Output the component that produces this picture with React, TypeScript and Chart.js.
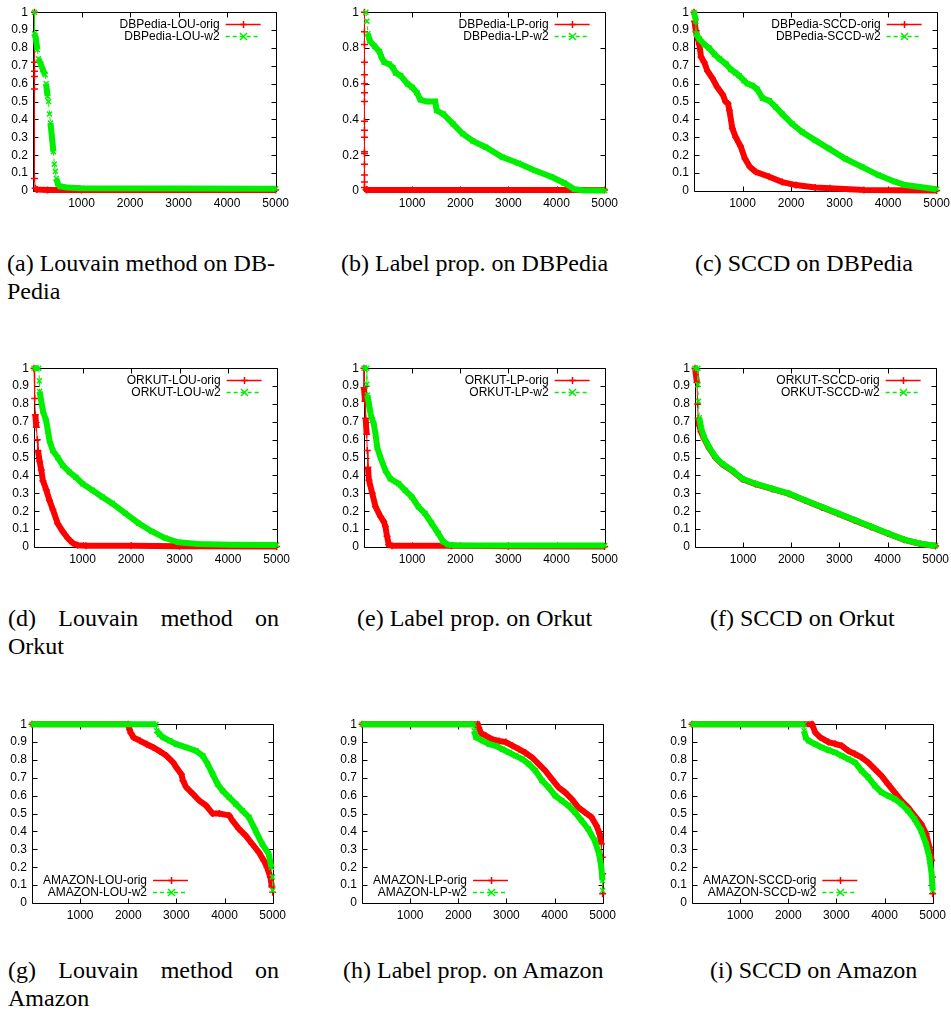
import React, { useEffect, useRef } from 'react';
import { Chart, registerables } from 'chart.js';

Chart.register(...registerables);

type Pt = [number, number];

// ---------- tick labels ----------
const X_TICKS = [1000, 2000, 3000, 4000, 5000];
const Y_LABELS_TENTHS = ['0', '0.1', '0.2', '0.3', '0.4', '0.5', '0.6', '0.7', '0.8', '0.9', '1'];
const Y_LABELS_FIFTHS = ['0', '0.2', '0.4', '0.6', '0.8', '1'];

// ---------- DBPedia ----------
const DBP_LOU_ORIG: Pt[] = [[30, 1], [30, 0.72], [30, 0.67], [30, 0.64], [30, 0.57], [30, 0.07], [45, 0.015], [80, 0.008], [300, 0.006], [1000, 0.005], [5000, 0.005]];
const DBP_LOU_W2: Pt[] = [[30, 1], [30, 0.88], [60, 0.85], [90, 0.79], [110, 0.74], [160, 0.71], [200, 0.68], [250, 0.65], [270, 0.6], [300, 0.53], [320, 0.5], [340, 0.43], [360, 0.38], [390, 0.3], [420, 0.22], [440, 0.15], [460, 0.11], [480, 0.07], [510, 0.04], [560, 0.025], [700, 0.02], [1000, 0.015], [5000, 0.012]];

const DBP_LP_ORIG: Pt[] = [[10, 1], [10, 0.89], [10, 0.82], [10, 0.72], [10, 0.65], [10, 0.6], [10, 0.55], [10, 0.5], [10, 0.39], [10, 0.34], [10, 0.3], [10, 0.22], [10, 0.21], [10, 0.15], [10, 0.09], [10, 0.05], [10, 0.02], [60, 0.005], [5000, 0.005]];
const DBP_LP_W2: Pt[] = [[40, 1], [60, 0.95], [80, 0.88], [120, 0.84], [220, 0.81], [320, 0.78], [360, 0.75], [420, 0.72], [520, 0.71], [600, 0.69], [660, 0.66], [760, 0.645], [900, 0.6], [1000, 0.58], [1100, 0.55], [1170, 0.51], [1300, 0.5], [1480, 0.5], [1510, 0.45], [1650, 0.43], [1850, 0.375], [2050, 0.32], [2260, 0.28], [2530, 0.245], [2870, 0.19], [3210, 0.155], [3550, 0.115], [3890, 0.08], [4160, 0.045], [4370, 0.01], [4570, 0.003], [5000, 0.003]];

const DBP_SCCD_ORIG: Pt[] = [[0, 1], [10, 0.95], [40, 0.89], [110, 0.82], [145, 0.75], [210, 0.72], [280, 0.67], [380, 0.63], [480, 0.58], [590, 0.54], [650, 0.5], [700, 0.49], [730, 0.45], [790, 0.35], [860, 0.3], [960, 0.25], [1050, 0.18], [1150, 0.135], [1270, 0.107], [1550, 0.08], [1820, 0.05], [2100, 0.033], [2500, 0.02], [2800, 0.015], [3500, 0.005], [5000, 0.003]];
const DBP_SCCD_W2: Pt[] = [[0, 1], [40, 0.95], [40, 0.88], [110, 0.85], [210, 0.82], [310, 0.8], [420, 0.765], [520, 0.74], [660, 0.71], [760, 0.68], [860, 0.66], [930, 0.645], [1030, 0.617], [1100, 0.6], [1200, 0.59], [1300, 0.57], [1410, 0.52], [1550, 0.505], [1680, 0.47], [1820, 0.43], [2020, 0.376], [2230, 0.33], [2500, 0.283], [2780, 0.237], [3120, 0.18], [3460, 0.135], [3800, 0.089], [4140, 0.052], [4350, 0.033], [4620, 0.024], [5000, 0.01]];

// ---------- Orkut ----------
const ORK_LOU_ORIG: Pt[] = [[0, 1], [14, 0.83], [27, 0.74], [48, 0.67], [68, 0.6], [82, 0.54], [116, 0.48], [150, 0.43], [184, 0.37], [252, 0.32], [320, 0.26], [388, 0.21], [490, 0.13], [592, 0.087], [694, 0.05], [796, 0.022], [900, 0.01], [1070, 0.007], [2000, 0.007], [3000, 0.004], [5000, 0.003]];
const ORK_LOU_W2: Pt[] = [[0, 1], [100, 1], [110, 0.93], [115, 0.87], [150, 0.815], [184, 0.76], [252, 0.705], [286, 0.65], [320, 0.594], [388, 0.539], [490, 0.5], [592, 0.456], [728, 0.419], [864, 0.39], [1000, 0.354], [1204, 0.317], [1408, 0.28], [1612, 0.244], [1884, 0.188], [2156, 0.133], [2429, 0.087], [2701, 0.05], [2973, 0.026], [3381, 0.017], [4061, 0.013], [5000, 0.011]];

const ORK_LP_ORIG: Pt[] = [[0, 1], [0, 0.89], [21, 0.815], [34, 0.72], [55, 0.63], [68, 0.54], [82, 0.446], [103, 0.373], [171, 0.3], [240, 0.225], [342, 0.17], [411, 0.142], [445, 0.114], [479, 0.06], [514, 0.013], [582, 0.007], [1815, 0.007], [3000, 0.004], [5000, 0.003]];
const ORK_LP_W2: Pt[] = [[0, 1], [60, 1], [60, 0.91], [70, 0.85], [103, 0.8], [137, 0.745], [205, 0.686], [240, 0.63], [274, 0.557], [342, 0.5], [445, 0.428], [548, 0.382], [719, 0.354], [856, 0.317], [993, 0.28], [1130, 0.225], [1267, 0.188], [1404, 0.133], [1541, 0.077], [1644, 0.03], [1747, 0.013], [1952, 0.009], [5000, 0.008]];

const ORK_SCCD_ORIG: Pt[] = [[0, 1], [40, 0.92], [55, 0.8], [65, 0.72], [90, 0.68], [124, 0.645], [192, 0.605], [295, 0.553], [433, 0.497], [570, 0.462], [776, 0.425], [982, 0.38], [1257, 0.352], [1600, 0.325], [1944, 0.298], [2287, 0.26], [2630, 0.223], [2974, 0.186], [3317, 0.149], [3661, 0.112], [4004, 0.075], [4348, 0.04], [4691, 0.017], [5000, 0.006]];
const ORK_SCCD_W2: Pt[] = [[0, 1], [60, 1], [60, 0.908], [70, 0.815], [90, 0.723], [124, 0.668], [192, 0.612], [295, 0.557], [433, 0.5], [570, 0.465], [776, 0.428], [982, 0.382], [1257, 0.354], [1600, 0.327], [1944, 0.3], [2287, 0.262], [2630, 0.225], [2974, 0.188], [3317, 0.151], [3661, 0.114], [4004, 0.077], [4348, 0.041], [4691, 0.018], [5000, 0.007]];

// ---------- Amazon ----------
const AMZ_LOU_ORIG: Pt[] = [[0, 1], [2000, 1], [2027, 0.97], [2055, 0.95], [2110, 0.926], [2247, 0.907], [2384, 0.888], [2521, 0.87], [2658, 0.848], [2795, 0.823], [2932, 0.786], [3000, 0.758], [3103, 0.72], [3137, 0.684], [3205, 0.647], [3342, 0.61], [3479, 0.572], [3616, 0.545], [3753, 0.5], [3890, 0.5], [4096, 0.49], [4164, 0.461], [4301, 0.414], [4438, 0.377], [4575, 0.33], [4712, 0.284], [4815, 0.238], [4884, 0.2], [4952, 0.145], [4985, 0.09], [5000, 0.06]];
const AMZ_LOU_W2: Pt[] = [[0, 1], [2580, 1], [2590, 0.963], [2650, 0.944], [2726, 0.926], [2863, 0.907], [3000, 0.888], [3205, 0.87], [3411, 0.851], [3548, 0.823], [3651, 0.777], [3753, 0.721], [3856, 0.665], [3959, 0.628], [4096, 0.591], [4233, 0.554], [4370, 0.517], [4507, 0.48], [4644, 0.405], [4781, 0.33], [4918, 0.275], [4975, 0.2], [4995, 0.145], [5000, 0.07]];

const AMZ_LP_ORIG: Pt[] = [[0, 1], [2404, 1], [2425, 0.98], [2473, 0.95], [2575, 0.935], [2712, 0.915], [2849, 0.906], [2986, 0.9], [3123, 0.88], [3260, 0.86], [3397, 0.84], [3534, 0.814], [3671, 0.777], [3808, 0.74], [3945, 0.693], [4082, 0.647], [4219, 0.619], [4356, 0.582], [4493, 0.535], [4630, 0.507], [4767, 0.48], [4870, 0.433], [4938, 0.387], [4973, 0.33], [4993, 0.256], [5000, 0.163], [5000, 0.052]];
const AMZ_LP_W2: Pt[] = [[0, 1], [2330, 1], [2330, 0.963], [2370, 0.926], [2507, 0.907], [2644, 0.888], [2781, 0.879], [2918, 0.86], [3055, 0.842], [3192, 0.823], [3329, 0.805], [3466, 0.777], [3603, 0.74], [3740, 0.684], [3877, 0.647], [4014, 0.6], [4151, 0.572], [4288, 0.545], [4425, 0.507], [4562, 0.461], [4699, 0.414], [4836, 0.349], [4925, 0.275], [4973, 0.2], [4995, 0.126], [5000, 0.07]];

const AMZ_SCCD_ORIG: Pt[] = [[0, 1], [2493, 1], [2562, 0.953], [2665, 0.926], [2837, 0.9], [2974, 0.89], [3111, 0.879], [3249, 0.851], [3386, 0.833], [3523, 0.814], [3661, 0.786], [3798, 0.749], [3935, 0.712], [4073, 0.665], [4210, 0.619], [4348, 0.572], [4485, 0.535], [4622, 0.489], [4760, 0.442], [4863, 0.387], [4931, 0.312], [4979, 0.238], [4995, 0.145], [5000, 0.052]];
const AMZ_SCCD_W2: Pt[] = [[0, 1], [2330, 1], [2330, 0.963], [2360, 0.926], [2424, 0.907], [2562, 0.888], [2699, 0.87], [2837, 0.855], [2974, 0.842], [3111, 0.823], [3249, 0.805], [3386, 0.786], [3523, 0.74], [3661, 0.703], [3798, 0.656], [3935, 0.619], [4073, 0.6], [4210, 0.582], [4348, 0.554], [4485, 0.517], [4622, 0.47], [4760, 0.405], [4863, 0.33], [4931, 0.256], [4979, 0.163], [5000, 0.07]];

// ---------- legend names & captions ----------
const NAMES_DBP = [['DBPedia-LOU-orig', 'DBPedia-LOU-w2'], ['DBPedia-LP-orig', 'DBPedia-LP-w2'], ['DBPedia-SCCD-orig', 'DBPedia-SCCD-w2']];
const NAMES_ORK = [['ORKUT-LOU-orig', 'ORKUT-LOU-w2'], ['ORKUT-LP-orig', 'ORKUT-LP-w2'], ['ORKUT-SCCD-orig', 'ORKUT-SCCD-w2']];
const NAMES_AMZ = [['AMAZON-LOU-orig', 'AMAZON-LOU-w2'], ['AMAZON-LP-orig', 'AMAZON-LP-w2'], ['AMAZON-SCCD-orig', 'AMAZON-SCCD-w2']];

const CAPTIONS: { lines: string[]; justify: boolean }[] = [
  { lines: ['(a) Louvain method on DB-', 'Pedia'], justify: false },
  { lines: ['(b) Label prop. on DBPedia'], justify: false },
  { lines: ['(c) SCCD on DBPedia'], justify: false },
  { lines: ['(d) Louvain method on', 'Orkut'], justify: true },
  { lines: ['(e) Label prop. on Orkut'], justify: false },
  { lines: ['(f) SCCD on Orkut'], justify: false },
  { lines: ['(g) Louvain method on', 'Amazon'], justify: true },
  { lines: ['(h) Label prop. on Amazon'], justify: false },
  { lines: ['(i) SCCD on Amazon'], justify: false },
];

// ---------- layout (positions only) ----------
const CAPTION_POS: [number, number][] = [
  [7, 249], [341, 249], [695, 249],
  [8, 604], [357, 604], [710, 604],
  [8, 956], [343, 956], [710, 956],
];

interface PanelSpec {
  frame: [number, number, number, number];
  yLabels: string[];
  yStep: number;
  names: string[];
  orig: Pt[];
  w2: Pt[];
  legendPos: 'tr' | 'bl';
}

const PANELS: PanelSpec[] = [
  { frame: [33, 11, 245, 180], yLabels: Y_LABELS_TENTHS, yStep: 0.1, names: NAMES_DBP[0], orig: DBP_LOU_ORIG, w2: DBP_LOU_W2, legendPos: 'tr' },
  { frame: [364, 11, 243, 180], yLabels: Y_LABELS_FIFTHS, yStep: 0.2, names: NAMES_DBP[1], orig: DBP_LP_ORIG, w2: DBP_LP_W2, legendPos: 'tr' },
  { frame: [694, 11, 245, 180], yLabels: Y_LABELS_TENTHS, yStep: 0.1, names: NAMES_DBP[2], orig: DBP_SCCD_ORIG, w2: DBP_SCCD_W2, legendPos: 'tr' },
  { frame: [34, 367, 245, 180], yLabels: Y_LABELS_TENTHS, yStep: 0.1, names: NAMES_ORK[0], orig: ORK_LOU_ORIG, w2: ORK_LOU_W2, legendPos: 'tr' },
  { frame: [364, 367, 243, 180], yLabels: Y_LABELS_TENTHS, yStep: 0.1, names: NAMES_ORK[1], orig: ORK_LP_ORIG, w2: ORK_LP_W2, legendPos: 'tr' },
  { frame: [695, 367, 243, 180], yLabels: Y_LABELS_TENTHS, yStep: 0.1, names: NAMES_ORK[2], orig: ORK_SCCD_ORIG, w2: ORK_SCCD_W2, legendPos: 'tr' },
  { frame: [32, 723, 243, 180], yLabels: Y_LABELS_TENTHS, yStep: 0.1, names: NAMES_AMZ[0], orig: AMZ_LOU_ORIG, w2: AMZ_LOU_W2, legendPos: 'bl' },
  { frame: [362, 723, 243, 180], yLabels: Y_LABELS_TENTHS, yStep: 0.1, names: NAMES_AMZ[1], orig: AMZ_LP_ORIG, w2: AMZ_LP_W2, legendPos: 'bl' },
  { frame: [692, 723, 243, 180], yLabels: Y_LABELS_TENTHS, yStep: 0.1, names: NAMES_AMZ[2], orig: AMZ_SCCD_ORIG, w2: AMZ_SCCD_W2, legendPos: 'bl' },
];

const RED = '#ff0000';
const GREEN = '#00ee00';
const SANS = 'Arial, "Liberation Sans", Helvetica, sans-serif';
const AXIS_W = 33;
const PAD_TOP = 11;
const PAD_RIGHT = 16;
const XAXIS_H = 22;

const gnuPlugin = {
  id: 'gnu',
  beforeDatasetsDraw(chart: any) {
    const { ctx, chartArea: a } = chart;
    const xs = chart.scales.x;
    const ys = chart.scales.y;
    const L = Math.round(a.left) + 0.5;
    const R = Math.round(a.right) + 0.5;
    const T = Math.round(a.top) + 0.5;
    const B = Math.round(a.bottom) + 0.5;
    ctx.save();
    ctx.strokeStyle = '#000';
    ctx.lineWidth = 1;
    ctx.beginPath();
    ctx.rect(L, T, R - L, B - T);
    for (const t of xs.ticks) {
      const px = Math.round(xs.getPixelForValue(t.value)) + 0.5;
      ctx.moveTo(px, B); ctx.lineTo(px, B - 5);
      ctx.moveTo(px, T); ctx.lineTo(px, T + 5);
    }
    for (const t of ys.ticks) {
      const py = Math.round(ys.getPixelForValue(t.value)) + 0.5;
      ctx.moveTo(L, py); ctx.lineTo(L + 5, py);
      ctx.moveTo(R, py); ctx.lineTo(R - 5, py);
    }
    ctx.stroke();
    ctx.restore();
  },
  afterDraw(chart: any, _args: any, opts: any) {
    const { ctx, chartArea: a } = chart;
    const items = opts.items as { label: string; color: string; dash: number[]; marker: string }[];
    if (!items) return;
    ctx.save();
    ctx.font = `12px ${SANS}`;
    ctx.textBaseline = 'middle';
    ctx.textAlign = 'right';
    const maxW = Math.max(...items.map((i) => ctx.measureText(i.label).width));
    let textRight: number;
    let y0: number;
    if (opts.pos === 'tr') {
      textRight = a.right - 56;
      y0 = a.top + 12;
    } else {
      textRight = a.left + 11 + maxW;
      y0 = a.bottom - 23;
    }
    items.forEach((it, k) => {
      const y = Math.round(y0 + k * 11.5) + 0.5;
      ctx.fillStyle = '#000';
      ctx.fillText(it.label, textRight, y);
      const x0 = textRight + 6;
      const x1 = textRight + 41;
      ctx.strokeStyle = it.color;
      ctx.lineWidth = 1.5;
      ctx.setLineDash(it.dash);
      ctx.beginPath();
      ctx.moveTo(x0, y); ctx.lineTo(x1, y);
      ctx.stroke();
      ctx.setLineDash([]);
      const cx = Math.round((x0 + x1) / 2) + 0.5;
      const r = 3.5;
      ctx.beginPath();
      if (it.marker === 'plus') {
        ctx.moveTo(cx - r, y); ctx.lineTo(cx + r, y);
        ctx.moveTo(cx, y - r); ctx.lineTo(cx, y + r);
      } else {
        ctx.moveTo(cx - r, y - r); ctx.lineTo(cx + r, y + r);
        ctx.moveTo(cx - r, y + r); ctx.lineTo(cx + r, y - r);
      }
      ctx.stroke();
    });
    ctx.restore();
  },
};

function segWidth(c: any) {
  return Math.abs(c.p1.x - c.p0.x) < 1 ? 1 : 6;
}

function Panel({ spec }: { spec: PanelSpec }) {
  const ref = useRef<HTMLCanvasElement>(null);
  const [fl, ft, fw, fh] = spec.frame;
  const cw = AXIS_W + fw + PAD_RIGHT;
  const ch = PAD_TOP + fh + XAXIS_H;

  useEffect(() => {
    if (!ref.current) return;
    const yl = spec.yLabels;
    const chart = new Chart(ref.current, {
      type: 'scatter',
      data: {
        datasets: [
          {
            label: spec.names[0],
            data: spec.orig.map(([x, y]) => ({ x, y })),
            showLine: true,
            borderColor: RED,
            backgroundColor: RED,
            borderWidth: 6,
            pointStyle: 'cross',
            pointRadius: 3.5,
            pointBorderWidth: 1.5,
            pointBorderColor: RED,
            order: 1,
            clip: 6,
            segment: { borderWidth: segWidth },
          } as any,
          {
            label: spec.names[1],
            data: spec.w2.map(([x, y]) => ({ x, y })),
            showLine: true,
            borderColor: GREEN,
            backgroundColor: GREEN,
            borderWidth: 6,
            pointStyle: 'crossRot',
            pointRadius: 3.5,
            pointBorderWidth: 1.5,
            pointBorderColor: GREEN,
            order: 0,
            clip: 6,
            segment: {
              borderWidth: segWidth,
              borderDash: (c: any) => (Math.abs(c.p1.x - c.p0.x) < 1 ? [4, 3] : []),
            },
          } as any,
        ],
      },
      options: {
        responsive: false,
        animation: false,
        devicePixelRatio: 1,
        events: [],
        layout: { padding: { top: PAD_TOP, right: PAD_RIGHT, left: 0, bottom: 0 } },
        scales: {
          x: {
            type: 'linear',
            min: 0,
            max: 5000,
            afterBuildTicks: (s: any) => {
              s.ticks = X_TICKS.map((v) => ({ value: v }));
            },
            afterFit: (s: any) => {
              s.height = XAXIS_H;
            },
            grid: { display: false, drawTicks: false },
            border: { display: false },
            ticks: {
              padding: 5,
              maxRotation: 0,
              autoSkip: false,
              color: '#000',
              font: { family: SANS, size: 12 },
              callback: (v: any) => String(v),
            },
          },
          y: {
            type: 'linear',
            min: 0,
            max: 1,
            afterBuildTicks: (s: any) => {
              s.ticks = yl.map((_, i) => ({ value: i * spec.yStep }));
            },
            afterFit: (s: any) => {
              s.width = AXIS_W;
            },
            grid: { display: false, drawTicks: false },
            border: { display: false },
            ticks: {
              padding: 5,
              autoSkip: false,
              color: '#000',
              font: { family: SANS, size: 12 },
              callback: (_v: any, i: number) => yl[i],
            },
          },
        },
        plugins: {
          legend: { display: false },
          tooltip: { enabled: false },
          gnu: {
            pos: spec.legendPos,
            items: [
              { label: spec.names[0], color: RED, dash: [], marker: 'plus' },
              { label: spec.names[1], color: GREEN, dash: [4, 3], marker: 'x' },
            ],
          },
        } as any,
      },
      plugins: [gnuPlugin],
    });
    return () => chart.destroy();
  }, [spec]);

  return (
    <canvas
      ref={ref}
      width={cw}
      height={ch}
      style={{ position: 'absolute', left: fl - AXIS_W, top: ft - PAD_TOP, width: cw, height: ch }}
    />
  );
}

const CAP_JUSTIFY_W = 271;

function Caption({ idx }: { idx: number }) {
  const c = CAPTIONS[idx];
  const [left, top] = CAPTION_POS[idx];
  return (
    <div
      style={{
        position: 'absolute',
        left,
        top,
        fontFamily: '"Times New Roman", "Liberation Serif", Times, serif',
        fontSize: 24,
        lineHeight: '28px',
        color: '#000',
      }}
    >
      {c.lines.map((ln, k) =>
        c.justify && k === 0 ? (
          <div key={k} style={{ width: CAP_JUSTIFY_W, textAlign: 'justify', textAlignLast: 'justify' as any, whiteSpace: 'normal' }}>
            {ln}
          </div>
        ) : (
          <div key={k} style={{ whiteSpace: 'nowrap' }}>{ln}</div>
        )
      )}
    </div>
  );
}

export default function App() {
  return (
    <div
      style={{
        position: 'absolute',
        left: 0,
        top: 0,
        width: 951,
        height: 1013,
        overflow: 'hidden',
        background: '#fff',
      }}
    >
      {PANELS.map((p, i) => (
        <Panel key={i} spec={p} />
      ))}
      {CAPTIONS.map((_, i) => (
        <Caption key={i} idx={i} />
      ))}
    </div>
  );
}
